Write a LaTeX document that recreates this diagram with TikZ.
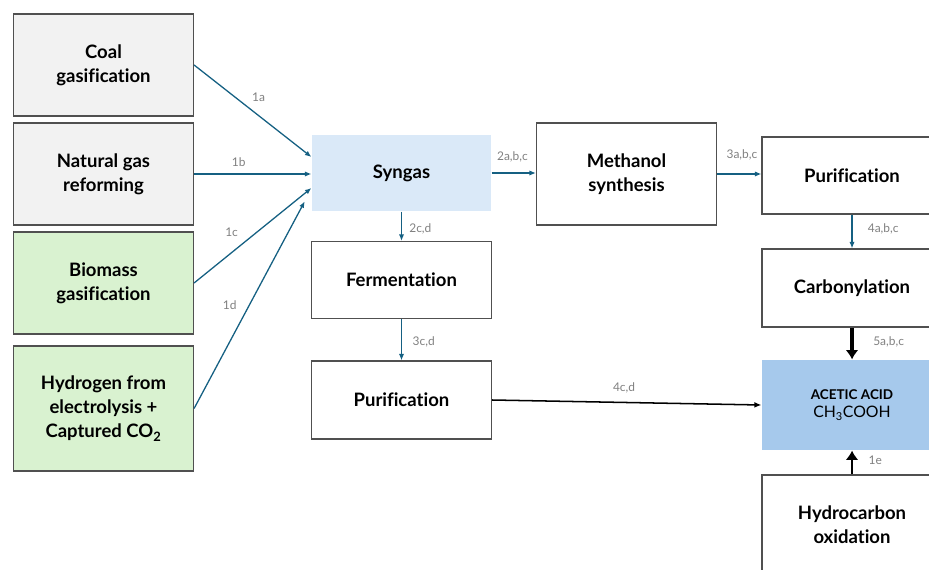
\documentclass[tikz,border=0pt]{standalone}
\usepackage{fontspec}
\setmainfont{Lato}[Ligatures={NoCommon}, RawFeature={-liga;-dlig}]
\usetikzlibrary{arrows.meta}

\definecolor{greybox}{RGB}{242,242,242}
\definecolor{greenbox}{RGB}{217,242,208}
\definecolor{syngasblue}{RGB}{218,233,248}
\definecolor{acidblue}{RGB}{166,201,236}
\definecolor{flowblue}{RGB}{21,96,130}
\definecolor{edgegrey}{RGB}{80,80,80}
\definecolor{labelgrey}{RGB}{128,128,128}

\begin{document}
\begin{tikzpicture}[x=0.03cm,y=-0.03cm,
  stage/.style={rectangle, draw=edgegrey, line width=1pt, minimum width=5.4cm,
    align=center, font=\fontsize{15.8}{20.5}\selectfont\bfseries},
  fossil/.style={stage, fill=greybox},
  renew/.style={stage, fill=greenbox},
  flow/.style={draw=flowblue, line width=1.1pt, -{Latex[length=5.5pt,width=4.5pt]}},
  bold flow/.style={draw=black, line width=3pt, -{Latex[length=8pt,width=11pt]}},
  thin flow/.style={draw=black, line width=1.3pt, -{Latex[length=6pt,width=5pt]}},
  lbl/.style={font=\fontsize{10.2}{11}\selectfont, text=labelgrey, inner sep=1pt}]
\useasboundingbox (0,0) rectangle (929,570);

\node[fossil, minimum height=3.06cm] (coal) at (103.5,65) {Coal\\gasification};
\node[fossil, minimum height=3.06cm] (natgas) at (103.5,174) {Natural gas\\reforming};
\node[renew, minimum height=3.06cm] (biomass) at (103.5,283) {Biomass\\gasification};
\node[renew, minimum height=3.75cm] (hydrogen) at (103.5,408.5)
  {Hydrogen from\\electrolysis +\\Captured CO\textsubscript{2}};

\node[stage, draw=none, fill=syngasblue, minimum width=5.37cm, minimum height=2.28cm]
  (syngas) at (401.5,173) {Syngas};
\node[stage, minimum height=2.31cm] (ferment) at (401.5,280) {Fermentation};
\node[stage, minimum height=2.34cm] (purifleft) at (401.5,400) {Purification};
\node[stage, minimum height=3.06cm] (methanol) at (626.5,174) {Methanol\\synthesis};

\node[stage, minimum height=2.31cm] (purifright) at (852,175.5) {Purification};
\node[stage, minimum height=2.34cm] (carbonyl) at (852,288) {Carbonylation};
\node[stage, draw=none, fill=acidblue, minimum height=2.7cm,
  font=\fontsize{13.5}{15.5}\selectfont] (acid) at (852,405)
  {{\fontsize{11.5}{12}\selectfont\bfseries ACETIC ACID}\\CH\textsubscript{3}COOH};
\node[stage, minimum height=3.0cm] (hydrocarbon) at (852,525) {Hydrocarbon\\oxidation};

\draw[flow] (coal.east) -- ([yshift=0.48cm]syngas.west)
  node[lbl, pos=.55, above=0.36cm] {1a};
\draw[flow] (natgas.east) -- (syngas.west |- natgas.east)
  node[lbl, pos=.38, above=0.16cm] {1b};
\draw[flow] (biomass.east) -- ([yshift=-0.45cm]syngas.west)
  node[lbl, pos=.32, above=0.43cm] {1c};
\draw[flow] (hydrogen.east) -- ([xshift=-0.2cm,yshift=-0.85cm]syngas.west)
  node[lbl, pos=.5, left=0.33cm] {1d};

\draw[flow] (syngas.east) -- (methanol.west |- syngas.east)
  node[lbl, pos=.47, above=0.28cm] {2a,b,c};
\draw[flow] (syngas.south) -- (ferment.north)
  node[lbl, pos=.6, right=0.18cm] {2c,d};
\draw[flow] (ferment.south) -- (purifleft.north)
  node[lbl, pos=.55, right=0.28cm] {3c,d};
\draw[flow] (methanol.east) -- (purifright.west |- methanol.east)
  node[lbl, pos=.56, above=0.36cm] {3a,b,c};
\draw[flow] (purifright.south) -- (carbonyl.north)
  node[lbl, pos=.42, right=0.42cm] {4a,b,c};

\draw[bold flow] (carbonyl.south) -- (acid.north)
  node[lbl, pos=.45, right=0.55cm] {5a,b,c};
\draw[thin flow] (purifleft.east) -- (acid.west)
  node[lbl, pos=.49, above=0.23cm] {4c,d};
\draw[bold flow, line width=2.5pt] (hydrocarbon.north) -- (acid.south)
  node[lbl, pos=.6, right=0.42cm] {1e};
\end{tikzpicture}
\end{document}
